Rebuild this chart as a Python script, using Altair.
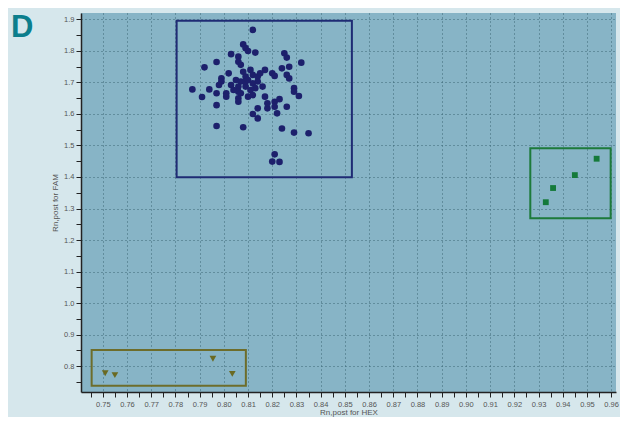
import altair as alt
import pandas as pd

# ---- data ----
fam_x = [0.812, 0.808, 0.809, 0.810, 0.813, 0.803, 0.806, 0.806, 0.807, 0.797,
         0.792, 0.825, 0.826, 0.827, 0.832, 0.811, 0.817, 0.802, 0.799, 0.799,
         0.798, 0.805, 0.807, 0.809, 0.812, 0.814, 0.815, 0.814, 0.812, 0.813,
         0.811, 0.809, 0.806, 0.806, 0.807, 0.806, 0.806, 0.801, 0.801, 0.797,
         0.794, 0.787, 0.791, 0.820, 0.821, 0.824, 0.826, 0.827, 0.829, 0.829,
         0.831, 0.810, 0.812, 0.817, 0.821, 0.823, 0.818, 0.822, 0.821, 0.826,
         0.814, 0.812, 0.814, 0.797, 0.797, 0.808, 0.824, 0.829, 0.835, 0.821,
         0.820, 0.823, 0.803, 0.804, 0.808, 0.818, 0.809, 0.810, 0.816]
fam_y = [1.867, 1.821, 1.809, 1.800, 1.795, 1.790, 1.782, 1.766, 1.756, 1.765,
         1.748, 1.793, 1.779, 1.750, 1.763, 1.740, 1.740, 1.729, 1.713, 1.703,
         1.692, 1.708, 1.703, 1.719, 1.724, 1.719, 1.729, 1.703, 1.697, 1.682,
         1.676, 1.687, 1.687, 1.671, 1.666, 1.650, 1.639, 1.666, 1.655, 1.666,
         1.678, 1.678, 1.654, 1.729, 1.721, 1.745, 1.724, 1.713, 1.682, 1.671,
         1.657, 1.655, 1.660, 1.655, 1.639, 1.647, 1.618, 1.602, 1.623, 1.623,
         1.618, 1.600, 1.586, 1.628, 1.562, 1.558, 1.554, 1.541, 1.539, 1.472,
         1.449, 1.448, 1.692, 1.676, 1.734, 1.634, 1.703, 1.708, 1.687]

hex_x = [0.933, 0.936, 0.945, 0.954]
hex_y = [1.320, 1.365, 1.406, 1.458]

neg_x = [0.751, 0.755, 0.7955, 0.8035]
neg_y = [0.777, 0.771, 0.823, 0.775]

box_group = ["FAM", "HEX", "NTC"]
box_x1 = [0.7805, 0.9266, 0.7454]
box_x2 = [0.8529, 0.9598, 0.8091]
box_y1 = [1.399, 1.269, 0.7375]
box_y2 = [1.896, 1.491, 0.851]
box_color = ["#1f2b74", "#1d7a3b", "#6d6d2b"]

x_ticks = [0.745, 0.75, 0.755, 0.76, 0.765, 0.77, 0.775, 0.78, 0.785, 0.79,
           0.795, 0.80, 0.805, 0.81, 0.815, 0.82, 0.825, 0.83, 0.835, 0.84,
           0.845, 0.85, 0.855, 0.86, 0.865, 0.87, 0.875, 0.88, 0.885, 0.89,
           0.895, 0.90, 0.905, 0.91, 0.915, 0.92, 0.925, 0.93, 0.935, 0.94,
           0.945, 0.95, 0.955, 0.96]
y_ticks = [0.75, 0.80, 0.85, 0.90, 0.95, 1.00, 1.05, 1.10, 1.15, 1.20, 1.25,
           1.30, 1.35, 1.40, 1.45, 1.50, 1.55, 1.60, 1.65, 1.70, 1.75, 1.80,
           1.85, 1.90]

x_domain = [0.741, 0.962]
y_domain = [0.7175, 1.9206]

fam = pd.DataFrame({"x": fam_x, "y": fam_y})
hexd = pd.DataFrame({"x": hex_x, "y": hex_y})
neg = pd.DataFrame({"x": neg_x, "y": neg_y})
boxes = pd.DataFrame({"g": box_group, "x1": box_x1, "x2": box_x2,
                      "y1": box_y1, "y2": box_y2, "c": box_color})

FONT = "Liberation Sans"
GRID = "#3a6674"

x_major = "abs(datum.value*100 - round(datum.value*100)) < 0.01"
y_major = "abs(datum.value*10 - round(datum.value*10)) < 0.01"

x_axis = alt.Axis(
    title="Rn,post for HEX", values=x_ticks, tickCount=500,
    labelExpr=f"{x_major} ? format(datum.value, '.2f') : ''",
    grid=True, gridDash=[1, 3], gridColor=GRID, gridWidth=1,
    gridOpacity={"condition": {"test": x_major, "value": 1}, "value": 0},
    tickSize=5, tickColor="#222222", domainColor="#222222", domainWidth=1.5,
    labelFont=FONT, labelFontSize=7.5, labelColor="#555555", labelPadding=3,
    labelFlush=False, labelOverlap=False,
    titleFont=FONT, titleFontSize=8, titleFontWeight="normal",
    titleColor="#555555", titlePadding=1,
)
y_axis = alt.Axis(
    title="Rn,post for FAM", values=y_ticks, tickCount=500,
    labelExpr=f"{y_major} ? format(datum.value, '.1f') : ''",
    grid=True, gridDash=[1, 3], gridColor=GRID, gridWidth=1,
    gridOpacity={"condition": {"test": y_major, "value": 1}, "value": 0},
    tickSize=5, tickColor="#222222", domainColor="#222222", domainWidth=1.5,
    labelFont=FONT, labelFontSize=7.5, labelColor="#555555", labelPadding=2,
    labelFlush=False, labelOverlap=False,
    titleFont=FONT, titleFontSize=8, titleFontWeight="normal",
    titleColor="#555555", titlePadding=4,
)

xs = alt.Scale(domain=x_domain, nice=False, zero=False)
ys = alt.Scale(domain=y_domain, nice=False, zero=False)

box_layer = alt.Chart(boxes).mark_rect(fillOpacity=0, strokeWidth=2).encode(
    x=alt.X("x1:Q", scale=xs, axis=x_axis),
    x2="x2:Q",
    y=alt.Y("y1:Q", scale=ys, axis=y_axis),
    y2="y2:Q",
    stroke=alt.Stroke("c:N", scale=None),
)

fam_layer = alt.Chart(fam).mark_point(
    shape="circle", filled=True, size=44, opacity=1, color="#1d206c"
).encode(x=alt.X("x:Q", scale=xs), y=alt.Y("y:Q", scale=ys))

hex_layer = alt.Chart(hexd).mark_point(
    shape="square", filled=True, size=34, opacity=1, color="#157a3a"
).encode(x=alt.X("x:Q", scale=xs), y=alt.Y("y:Q", scale=ys))

neg_layer = alt.Chart(neg).mark_point(
    shape="triangle-down", filled=True, size=45, opacity=1, color="#6a6a22"
).encode(x=alt.X("x:Q", scale=xs), y=alt.Y("y:Q", scale=ys))

label = alt.Chart(pd.DataFrame({"t": ["D"]})).mark_text(
    align="left", baseline="alphabetic", fontSize=31, fontWeight="bold",
    font=FONT, color="#0c7e8c"
).encode(x=alt.value(-70), y=alt.value(24), text="t:N")

chart = alt.layer(box_layer, fam_layer, hex_layer, neg_layer, label).properties(
    width=535, height=379,
    autosize=alt.AutoSizeParams(type="none"),
    padding={"left": 73, "top": 5, "right": 4, "bottom": 25},
).configure(background="#d6e7ec").configure_view(fill="#87b4c6", strokeWidth=0)

chart.save("out.html", embed_options={"renderer": "svg", "actions": False})
